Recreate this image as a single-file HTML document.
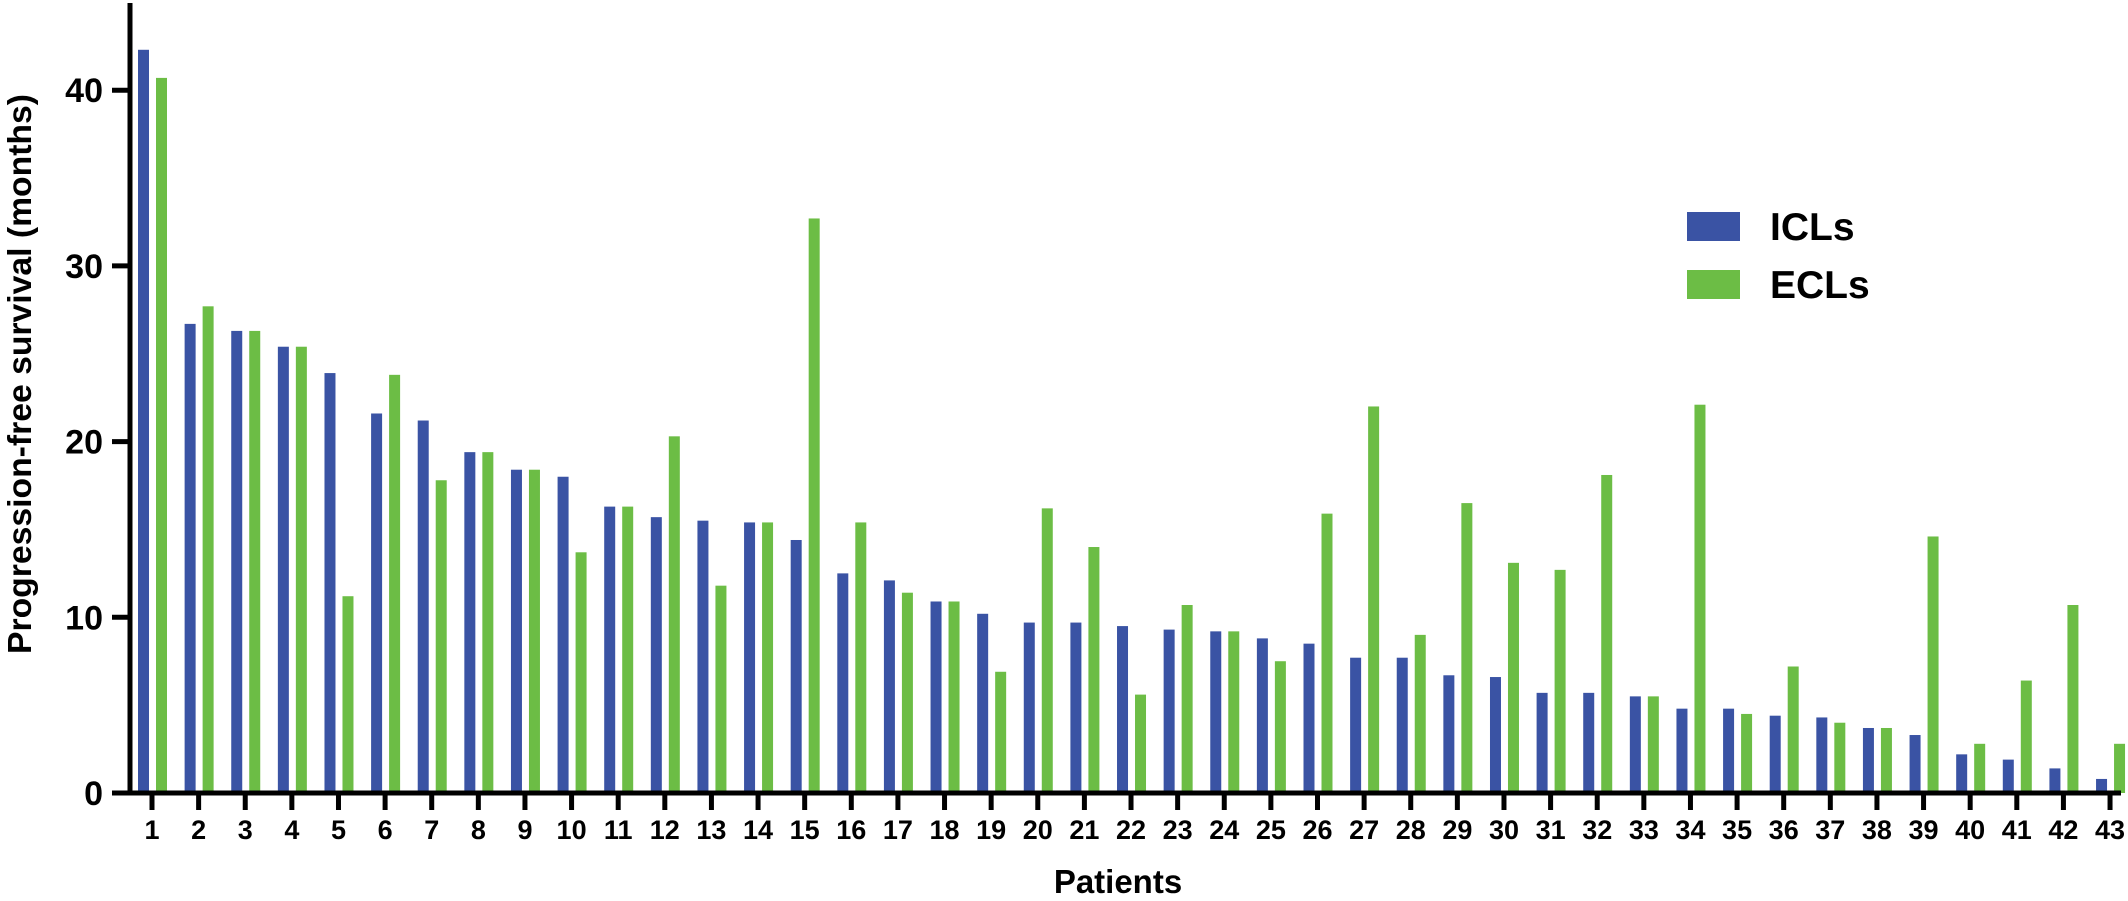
<!DOCTYPE html>
<html><head><meta charset="utf-8"><style>
html,body{margin:0;padding:0;background:#fff;}
svg{display:block;font-family:"Liberation Sans",Arial,sans-serif;font-weight:bold;}
</style></head><body>
<svg id="chart" width="2128" height="901" viewBox="0 0 2128 901" xmlns="http://www.w3.org/2000/svg">
<g id="bars"></g>
<g id="axes"></g>
<text transform="translate(31,374) rotate(-90)" text-anchor="middle" font-size="33" textLength="560" lengthAdjust="spacingAndGlyphs">Progression-free survival (months)</text>
<text x="1118" y="893" text-anchor="middle" font-size="33">Patients</text>
<g>
<rect x="1687" y="212" width="53" height="29" fill="#3a53a4"/>
<text x="1770" y="240" font-size="39">ICLs</text>
<rect x="1687" y="270" width="53" height="29" fill="#6cbd45"/>
<text x="1770" y="298" font-size="39">ECLs</text>
</g>
</svg>
<script>
const categories = Array.from({length:43},(_,i)=>String(i+1));
const iclValues = [42.3,26.7,26.3,25.4,23.9,21.6,21.2,19.4,18.4,18.0,16.3,15.7,15.5,15.4,14.4,12.5,12.1,10.9,10.2,9.7,9.7,9.5,9.3,9.2,8.8,8.5,7.7,7.7,6.7,6.6,5.7,5.7,5.5,4.8,4.8,4.4,4.3,3.7,3.3,2.2,1.9,1.4,0.8];
const eclValues = [40.7,27.7,26.3,25.4,11.2,23.8,17.8,19.4,18.4,13.7,16.3,20.3,11.8,15.4,32.7,15.4,11.4,10.9,6.9,16.2,14.0,5.6,10.7,9.2,7.5,15.9,22.0,9.0,16.5,13.1,12.7,18.1,5.5,22.1,4.5,7.2,4.0,3.7,14.6,2.8,6.4,10.7,2.8];
const yTicks = [0,10,20,30,40];

const NS="http://www.w3.org/2000/svg";
const y0=793, pxPerUnit=17.57;
function yScale(v){return y0 - v*pxPerUnit;}
function xScale(i){return 152 + i*46.62;}
const bars=document.getElementById('bars');
const axes=document.getElementById('axes');
function mk(tag,attrs,parent){const e=document.createElementNS(NS,tag);for(const k in attrs)e.setAttribute(k,attrs[k]);parent.appendChild(e);return e;}

categories.forEach((c,i)=>{
  const cx=xScale(i);
  const b1=mk('rect',{x:cx-14,y:yScale(iclValues[i]),width:11,height:y0-yScale(iclValues[i]),fill:'#3a53a4'},bars);
  
  
  const b2=mk('rect',{x:cx+4,y:yScale(eclValues[i]),width:11,height:y0-yScale(eclValues[i]),fill:'#6cbd45'},bars);
  
  
  const t=mk('line',{x1:cx,x2:cx,y1:793,y2:810,stroke:'#000','stroke-width':5},axes);
  
  
  const l=mk('text',{x:cx,y:839,'text-anchor':'middle','font-size':27},axes);
  l.textContent=c;
  
  
});
const ya=mk('line',{x1:130,x2:130,y1:3,y2:795,stroke:'#000','stroke-width':5},axes);


const xa=mk('line',{x1:112,x2:2121,y1:793,y2:793,stroke:'#000','stroke-width':5},axes);


yTicks.forEach(v=>{
  const y=yScale(v);
  const t=mk('line',{x1:112,x2:130,y1:y,y2:y,stroke:'#000','stroke-width':5},axes);
  
  
  const l=mk('text',{x:103,y:y+12,'text-anchor':'end','font-size':34},axes);
  l.textContent=v;
  
  
});
</script>
</body></html>
